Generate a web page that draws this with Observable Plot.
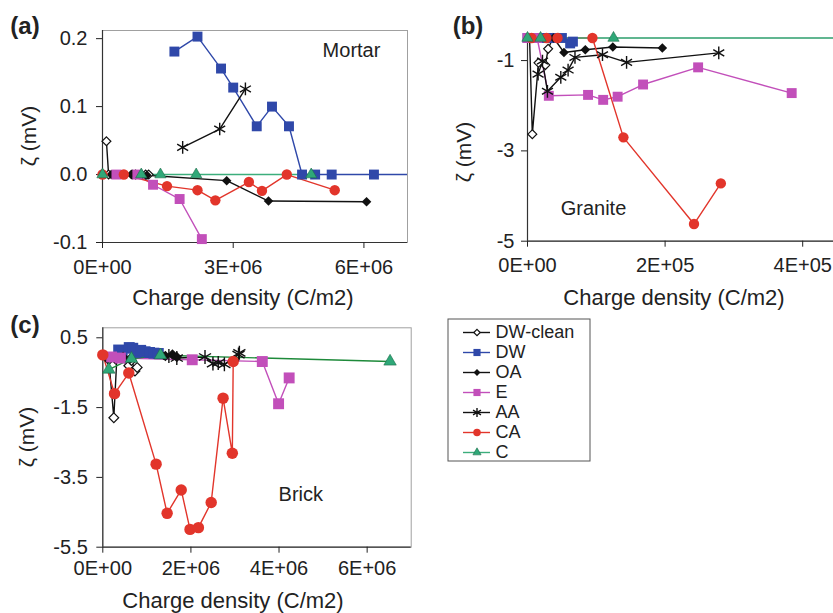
<!DOCTYPE html>
<html>
<head>
<meta charset="utf-8">
<script src="https://cdn.jsdelivr.net/npm/d3@7"></script>
<script src="https://cdn.jsdelivr.net/npm/@observablehq/plot@0.6"></script>
<style>
  html, body { margin: 0; padding: 0; background: #fff; overflow: hidden; width: 833px; height: 613px; }
  #fig { position: relative; width: 833px; height: 613px; overflow: hidden; font-family: "Liberation Sans", Arial, sans-serif; color: #222; }
  .abs { position: absolute; white-space: nowrap; }
  .tag { font-weight: bold; font-size: 24px; transform: translate(-50%, -50%); }
  .xt { font-size: 22px; transform: translate(-50%, -50%); }
  .yt { font-size: 21px; transform: translate(-50%, -50%) rotate(-90deg); }
  svg { overflow: visible; }
</style>
</head>
<body>
<div id="fig"></div>
<script>
// Series, in legend order
const seriesNames = ["DW-clean", "DW", "OA", "E", "AA", "CA", "C"];

// Zeta potential (mV) against charge density (C/m2): [charge, zeta]
const mortarDWclean = [[0.09e6, 0.049], [0.14e6, 0], [0.68e6, 0], [0.76e6, 0], [0.99e6, 0], [1.06e6, 0]];
const mortarDW = [[1.65e6, 0.181], [2.18e6, 0.203], [2.72e6, 0.156], [3.0e6, 0.128], [3.54e6, 0.071], [3.89e6, 0.1], [4.28e6, 0.071], [4.58e6, 0], [4.88e6, 0], [5.26e6, 0], [6.23e6, 0], [7.4e6, 0]];
const mortarOA = [[0.2e6, 0], [0.45e6, 0], [0.66e6, 0], [0.9e6, 0], [1.02e6, -0.001], [2.85e6, -0.009], [3.81e6, -0.039], [6.06e6, -0.040]];
const mortarE = [[0.32e6, 0], [0.8e6, 0], [1.16e6, -0.015], [1.77e6, -0.036], [2.28e6, -0.095]];
const mortarAA = [[1.84e6, 0.040], [2.69e6, 0.067], [3.28e6, 0.126]];
const mortarCA = [[0, 0], [0.49e6, 0], [1.48e6, -0.017], [2.18e6, -0.023], [2.59e6, -0.038], [3.36e6, -0.011], [3.66e6, -0.024], [4.23e6, 0], [5.33e6, -0.023]];
const mortarC = [[0, 0], [0.89e6, 0], [1.33e6, 0], [2.15e6, 0], [4.79e6, 0]];

const graniteDWclean = [[3e3, 0], [7e3, -2.63], [1.6e4, -1.05], [2.6e4, -1.1], [3e4, -0.74], [3.7e4, 0], [4.5e4, 0]];
const graniteDW = [[0, 0], [1e4, 0], [2e4, 0], [3e4, 0], [4e4, 0], [5e4, 0], [6.2e4, -0.62], [6.6e4, -0.58]];
const graniteOA = [[0, 0], [1.5e4, 0], [3.8e4, 0], [5.3e4, -0.82], [8.4e4, -0.76], [1.24e5, -0.70], [1.96e5, -0.72]];
const graniteE = [[0, 0], [1.4e4, 0], [3.1e4, -1.78], [8.8e4, -1.76], [1.10e5, -1.87], [1.31e5, -1.80], [1.68e5, -1.53], [2.48e5, -1.15], [3.84e5, -1.72]];
const graniteAA = [[1.54e4, -1.30], [2.18e4, -1.01], [2.9e4, -1.68], [4.84e4, -1.37], [5.9e4, -1.21], [6.9e4, -0.93], [1.09e5, -0.87], [1.44e5, -1.04], [2.78e5, -0.83]];
const graniteCA = [[5.8e3, 0], [2.76e4, 0], [4.36e4, 0], [9.44e4, 0], [1.394e5, -2.70], [2.42e5, -4.62], [2.81e5, -3.72]];
const graniteC = [[0, 0], [1.9e4, 0], [1.25e5, 0], [4.9e5, 0]];

const brickDWclean = [[1.36e5, -0.13], [2.5e5, -1.79], [3.2e5, -0.05], [5.9e5, -0.3], [6.5e5, -0.15], [7.3e5, -0.45], [7.8e5, -0.35]];
const brickDW = [[3.6e5, 0.15], [4.4e5, 0.12], [6.0e5, 0.22], [6.8e5, 0.2], [7.5e5, 0.08], [8.6e5, 0.14], [9.6e5, 0.1], [1.06e6, 0.08], [1.16e6, 0.06], [1.26e6, 0.05]];
const brickOA = [[1.2e5, -0.1], [2.9e5, -0.12], [4.6e5, -0.05], [6.2e5, -0.1], [1.42e6, -0.02], [1.58e6, 0.02], [1.68e6, -0.05]];
const brickE = [[2e5, -0.05], [4e5, -0.08], [2.03e6, -0.13], [3.62e6, -0.18], [3.99e6, -1.39], [4.23e6, -0.65]];
const brickAA = [[1.5e6, -0.02], [1.68e6, -0.08], [2.32e6, -0.05], [2.5e6, -0.24], [2.62e6, -0.22], [2.76e6, -0.26], [3.08e6, 0.02], [3.1e6, 0.07]];
const brickCA = [[0, 0.01], [2.66e5, -1.10], [5.9e5, -0.51], [1.21e6, -3.12], [1.46e6, -4.53], [1.78e6, -3.86], [1.98e6, -4.99], [2.17e6, -4.94], [2.46e6, -4.22], [2.73e6, -1.23], [2.94e6, -2.81], [2.96e6, -0.18]];
const brickC = [[1.36e5, -0.41], [6.5e5, -0.1], [1.31e6, 0.0], [6.52e6, -0.18]];

// Axis tick values
const mortarXTicks = [0, 3e6, 6e6];
const mortarYTicks = [-0.1, 0, 0.1, 0.2];
const graniteXTicks = [0, 2e5, 4e5];
const graniteYTicks = [-5, -3, -1];
const brickXTicks = [0, 2e6, 4e6, 6e6];
const brickYTicks = [-5.5, -3.5, -1.5, 0.5];

// Marker and line styling per series
const seriesStyle = {
  "DW-clean": {color: "#111", symbol: "diamond2", fill: "#fff", stroke: "#111", r: 4, sw: 1.2},
  "DW":       {color: "#2f48a9", symbol: "square", fill: "#2f48a9", stroke: "none", r: 5.6, sw: 0},
  "OA":       {color: "#111", symbol: "diamond2", fill: "#111", stroke: "none", r: 4.3, sw: 0},
  "E":        {color: "#c24fba", symbol: "square", fill: "#c24fba", stroke: "none", r: 5.6, sw: 0},
  "AA":       {color: "#111", symbol: "asterisk", fill: "none", stroke: "#111", r: 6, sw: 1.4},
  "CA":       {color: "#e2352b", symbol: "circle", fill: "#e2352b", stroke: "none", r: 5.2, sw: 0},
  "C":        {color: "#3cae7c", symbol: "triangle", fill: "#2fa878", stroke: "#1d6b4a", r: 4.2, sw: 0.6}
};

const font = '"Liberation Sans", Arial, sans-serif';

// Spreadsheet-style scientific tick labels: 0E+00, 3E+06 ...
function sci(d) {
  if (d === 0) return "0E+00";
  const e = Math.floor(Math.log10(Math.abs(d)));
  const m = Math.round(d / 10 ** e);
  return `${m}E+${String(e).padStart(2, "0")}`;
}

function panel(cfg) {
  const lines = [], dots = [];
  seriesNames.forEach((name, i) => {
    const pts = cfg.series[i];
    const st = seriesStyle[name];
    const lineColor = (cfg.lineColors && cfg.lineColors[name]) || st.color;
    lines.push(Plot.line(pts, {x: d => d[0], y: d => d[1], stroke: lineColor, strokeWidth: 1.4, clip: cfg.clip}));
    const shown = pts.filter(d => d[0] <= cfg.xDomain[1]);
    dots.push(Plot.dot(shown, {
      x: d => d[0], y: d => d[1], symbol: st.symbol, r: st.r * (cfg.markerScale || 1),
      fill: st.fill, stroke: st.stroke, strokeWidth: st.sw
    }));
  });
  return Plot.plot({
    width: cfg.width, height: cfg.height,
    marginLeft: cfg.margin[3], marginRight: cfg.margin[1], marginTop: cfg.margin[0], marginBottom: cfg.margin[2],
    x: {domain: cfg.xDomain, axis: null},
    y: {domain: cfg.yDomain, axis: null, clamp: !!cfg.clamp},
    style: {fontFamily: font, fontSize: "20px", color: "#222", background: "transparent", overflow: "visible", maxWidth: "none"},
    marks: [
      Plot.frame({stroke: "#a0a0a0"}),
      Plot.ruleX([cfg.xDomain[0]], {stroke: "#333", strokeWidth: 1.2}),
      Plot.ruleY([cfg.yDomain[0]], {stroke: "#333", strokeWidth: 1.2}),
      Plot.axisX(cfg.xTicks, {tickFormat: sci, tickSize: 6, tickPadding: cfg.xPad, fontSize: 20, label: null}),
      Plot.axisY(cfg.yTicks, {tickFormat: cfg.yFormat, tickSize: 6, tickPadding: cfg.yPad, fontSize: 20, label: null}),
      ...lines,
      ...dots,
      Plot.text([cfg.name], {
        frameAnchor: cfg.nameAnchor, dx: cfg.nameDx, dy: cfg.nameDy,
        textAnchor: "middle", lineAnchor: "middle", fontSize: 20, fill: "#222"
      })
    ]
  });
}

const fig = document.getElementById("fig");
function place(node, left, top, w) {
  const d = document.createElement("div");
  d.style.cssText = `position:absolute;left:${left}px;top:${top}px;width:${w}px`;
  d.append(node);
  fig.append(d);
}
function label(text, x, y, cls) {
  const d = document.createElement("div");
  d.className = "abs " + cls;
  d.textContent = text;
  d.style.left = x + "px";
  d.style.top = y + "px";
  fig.append(d);
}

// (a) Mortar
place(panel({
  series: [mortarDWclean, mortarDW, mortarOA, mortarE, mortarAA, mortarCA, mortarC],
  width: 420, height: 300, margin: [30, 13, 58, 102],
  xDomain: [0, 7e6], yDomain: [-0.1, 0.212],
  xTicks: mortarXTicks, yTicks: mortarYTicks, yFormat: d => d.toFixed(1),
  xPad: 11, yPad: 9, clip: true,
  name: "Mortar", nameAnchor: "top-right", nameDx: -56, nameDy: 20
}), 0, 0, 420);

// (b) Granite — its frame runs past the right edge of the page
place(panel({
  series: [graniteDWclean, graniteDW, graniteOA, graniteE, graniteAA, graniteCA, graniteC],
  width: 441, height: 300, margin: [37.5, 10, 59.3, 87],
  xDomain: [0, 5e5], yDomain: [-5, -0.5], clamp: true,
  xTicks: graniteXTicks, yTicks: graniteYTicks, yFormat: d => String(d),
  xPad: 11, yPad: 7,
  name: "Granite", nameAnchor: "bottom-left", nameDx: 66, nameDy: -33
}), 440, 0, 441);

// (c) Brick
place(panel({
  series: [brickDWclean, brickDW, brickOA, brickE, brickAA, brickCA, brickC],
  width: 420, height: 290, margin: [17.3, 9.3, 53.3, 102.3],
  xDomain: [0, 7e6], yDomain: [-5.5, 0.786],
  xTicks: brickXTicks, yTicks: brickYTicks, yFormat: d => d.toFixed(1),
  xPad: 8, yPad: 9, markerScale: 1.1,
  lineColors: {"C": "#1e8a3a"},
  name: "Brick", nameAnchor: "bottom-left", nameDx: 198, nameDy: -53
}), 0, 310, 420);

// Shared legend
const legendMarks = [Plot.frame({stroke: "#555", inset: 0.5})];
seriesNames.forEach(name => {
  const st = seriesStyle[name];
  legendMarks.push(
    Plot.ruleY([name], {y: d => d, x1: 0, x2: 1, stroke: st.color, strokeWidth: 1.4}),
    Plot.dot([name], {x: 0.5, y: d => d, symbol: st.symbol, r: st.r * 0.72, fill: st.fill, stroke: st.stroke, strokeWidth: st.sw}),
    Plot.text([name], {x: 1, y: d => d, text: d => d, dx: 5, textAnchor: "start", fontSize: 18, fill: "#222"})
  );
});
place(Plot.plot({
  width: 143, height: 143, margin: 0,
  x: {domain: [0, 1], range: [16, 43], axis: null},
  y: {type: "point", domain: seriesNames, range: [14, 134], padding: 0, axis: null},
  style: {fontFamily: font, background: "transparent", overflow: "visible", maxWidth: "none"},
  marks: legendMarks
}), 447, 318, 143);

// Panel tags and axis titles
label("(a)", 25, 26, "tag");
label("(b)", 468, 26, "tag");
label("(c)", 25, 325, "tag");
label("Charge density (C/m2)", 243, 298, "xt");
label("Charge density (C/m2)", 674, 298, "xt");
label("Charge density (C/m2)", 233, 601, "xt");
label("ζ (mV)", 29, 136, "yt");
label("ζ (mV)", 464, 152, "yt");
label("ζ (mV)", 27, 437, "yt");
</script>
</body>
</html>
